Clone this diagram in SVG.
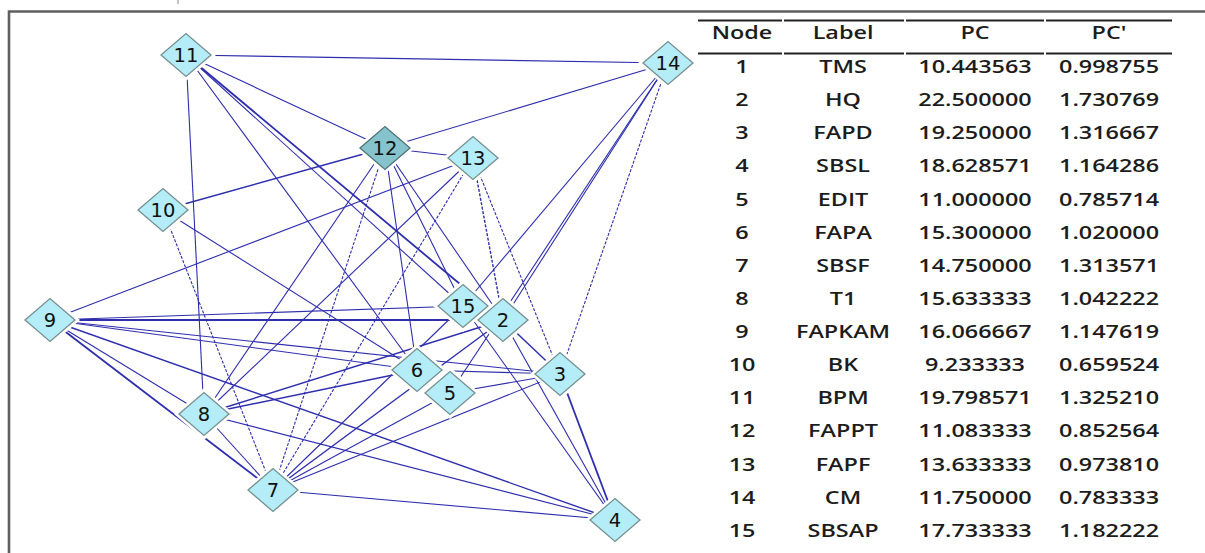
<svg xmlns="http://www.w3.org/2000/svg" xmlns:xlink="http://www.w3.org/1999/xlink" width="1205" height="553" viewBox="0 0 1205 553">
<defs>
<path id="dia" d="M-25 0L0-21.5L25 0L0 21.5Z"/>
<path id="halo" d="M-30 0L0-26L30 0L0 26Z"/>
<style>
.e{stroke:#2e2eae;stroke-width:1.1;fill:none}
.t{stroke-width:1.8}
.m{stroke-width:1.4}
.d{stroke-dasharray:3 1.5}
.n use{fill:#b4ecf8;stroke:#75908f;stroke-width:1.3}
.n text{font-family:"DejaVu Sans",Verdana,sans-serif;font-size:19.5px;fill:#111;text-anchor:middle}
#n12 use{fill:#86c3cc;stroke:#4e7478}
.tb text{font-family:"Open Sans","Liberation Sans",sans-serif;font-size:18px;font-weight:600;fill:#1c1c1c;text-anchor:middle}
.r{stroke:#222;stroke-width:2}
</style>
</defs>
<rect width="1205" height="553" fill="#fff"/>
<path d="M9 553V11.5H1205" fill="none" stroke="#5f5f5f" stroke-width="2.6"/>
<path d="M178 0V4" stroke="#888" stroke-width="1"/>
<g id="edges">
<line class="e" x1="186" y1="55" x2="668" y2="63"/>
<line class="e" x1="186" y1="55" x2="385" y2="148"/>
<line class="e" x1="186" y1="55" x2="204" y2="414"/>
<line class="e" x1="186" y1="55" x2="417" y2="370"/>
<line class="e" x1="186" y1="55" x2="463" y2="306"/>
<line class="e t" x1="186" y1="55" x2="503" y2="320"/>
<line class="e" x1="385" y1="148" x2="668" y2="63"/>
<line class="e" x1="385" y1="148" x2="473" y2="158"/>
<line class="e m" x1="385" y1="148" x2="163" y2="210"/>
<line class="e" x1="385" y1="148" x2="204" y2="414"/>
<line class="e d" x1="385" y1="148" x2="273" y2="490"/>
<line class="e" x1="385" y1="148" x2="417" y2="370"/>
<line class="e" x1="385" y1="148" x2="503" y2="320"/>
<line class="e" x1="385" y1="148" x2="463" y2="306"/>
<line class="e" x1="473" y1="158" x2="50" y2="320"/>
<line class="e" x1="473" y1="158" x2="204" y2="414"/>
<line class="e d" x1="473" y1="158" x2="273" y2="490"/>
<line class="e m d" x1="473" y1="158" x2="503" y2="320"/>
<line class="e d" x1="473" y1="158" x2="560" y2="374"/>
<line class="e" x1="668" y1="63" x2="463" y2="306"/>
<line class="e" x1="668" y1="63" x2="503" y2="320"/>
<line class="e" x1="668" y1="63" x2="450" y2="393"/>
<line class="e d" x1="668" y1="63" x2="560" y2="374"/>
<line class="e" x1="163" y1="210" x2="417" y2="370"/>
<line class="e d" x1="163" y1="210" x2="273" y2="490"/>
<line class="e" x1="50" y1="320" x2="463" y2="306"/>
<line class="e t" x1="50" y1="320" x2="503" y2="320"/>
<line class="e" x1="50" y1="320" x2="417" y2="370"/>
<line class="e" x1="50" y1="320" x2="560" y2="374"/>
<line class="e m" x1="50" y1="320" x2="615" y2="520"/>
<line class="e" x1="50" y1="320" x2="204" y2="414"/>
<line class="e t" x1="50" y1="320" x2="273" y2="490"/>
<line class="e" x1="204" y1="414" x2="273" y2="490"/>
<line class="e m" x1="204" y1="414" x2="417" y2="370"/>
<line class="e m" x1="204" y1="414" x2="503" y2="320"/>
<line class="e" x1="204" y1="414" x2="615" y2="520"/>
<line class="e" x1="273" y1="490" x2="463" y2="306"/>
<line class="e m" x1="273" y1="490" x2="503" y2="320"/>
<line class="e" x1="273" y1="490" x2="450" y2="393"/>
<line class="e" x1="273" y1="490" x2="560" y2="374"/>
<line class="e" x1="273" y1="490" x2="615" y2="520"/>
<line class="e" x1="417" y1="370" x2="560" y2="374"/>
<line class="e" x1="450" y1="393" x2="560" y2="374"/>
<line class="e m" x1="503" y1="320" x2="560" y2="374"/>
<line class="e" x1="503" y1="320" x2="615" y2="520"/>
<line class="e" x1="463" y1="306" x2="615" y2="520"/>
<line class="e t" x1="560" y1="374" x2="615" y2="520"/>
</g>
<g id="halos" fill="#fff">
<use xlink:href="#halo" x="186" y="55"/><use xlink:href="#halo" x="385" y="148"/><use xlink:href="#halo" x="473" y="158"/><use xlink:href="#halo" x="668" y="63"/><use xlink:href="#halo" x="163" y="210"/><use xlink:href="#halo" x="50" y="320"/><use xlink:href="#halo" x="204" y="414"/><use xlink:href="#halo" x="273" y="490"/><use xlink:href="#halo" x="463" y="306"/><use xlink:href="#halo" x="503" y="320"/><use xlink:href="#halo" x="417" y="370"/><use xlink:href="#halo" x="450" y="393"/><use xlink:href="#halo" x="560" y="374"/><use xlink:href="#halo" x="615" y="520"/>
</g>
<g id="n11" class="n"><use xlink:href="#dia" x="186" y="55"/><text x="186" y="62">11</text></g>
<g id="n12" class="n"><use xlink:href="#dia" x="385" y="148"/><text x="385" y="155">12</text></g>
<g id="n13" class="n"><use xlink:href="#dia" x="473" y="158"/><text x="473" y="165">13</text></g>
<g id="n14" class="n"><use xlink:href="#dia" x="668" y="63"/><text x="668" y="70">14</text></g>
<g id="n10" class="n"><use xlink:href="#dia" x="163" y="210"/><text x="163" y="217">10</text></g>
<g id="n9" class="n"><use xlink:href="#dia" x="50" y="320"/><text x="50" y="327">9</text></g>
<g id="n8" class="n"><use xlink:href="#dia" x="204" y="414"/><text x="204" y="421">8</text></g>
<g id="n7" class="n"><use xlink:href="#dia" x="273" y="490"/><text x="273" y="497">7</text></g>
<g id="n15" class="n"><use xlink:href="#dia" x="463" y="306"/><text x="463" y="313">15</text></g>
<g id="n2" class="n"><use xlink:href="#dia" x="503" y="320"/><text x="503" y="327">2</text></g>
<g id="n6" class="n"><use xlink:href="#dia" x="417" y="370"/><text x="417" y="377">6</text></g>
<g id="n5" class="n"><use xlink:href="#dia" x="450" y="393"/><text x="450" y="400">5</text></g>
<g id="n3" class="n"><use xlink:href="#dia" x="560" y="374"/><text x="560" y="381">3</text></g>
<g id="n4" class="n"><use xlink:href="#dia" x="615" y="520"/><text x="615" y="527">4</text></g>
<g id="table" class="tb">
<path class="r" d="M698 20.5H782M784 20.5H904M906 20.5H1044M1046 20.5H1172M698 53.5H782M784 53.5H904M906 53.5H1044M1046 53.5H1172"/>
<g transform="scale(1.3,1)">
<text x="570.8" y="39">Node</text><text x="648.5" y="39">Label</text><text x="750" y="39">PC</text><text x="853.1" y="39">PC'</text>
<text x="570.8" y="73">1</text><text x="648.5" y="73">TMS</text><text x="750" y="73">10.443563</text><text x="853.1" y="73">0.998755</text>
<text x="570.8" y="106.1">2</text><text x="648.5" y="106.1">HQ</text><text x="750" y="106.1">22.500000</text><text x="853.1" y="106.1">1.730769</text>
<text x="570.8" y="139.3">3</text><text x="648.5" y="139.3">FAPD</text><text x="750" y="139.3">19.250000</text><text x="853.1" y="139.3">1.316667</text>
<text x="570.8" y="172.4">4</text><text x="648.5" y="172.4">SBSL</text><text x="750" y="172.4">18.628571</text><text x="853.1" y="172.4">1.164286</text>
<text x="570.8" y="205.6">5</text><text x="648.5" y="205.6">EDIT</text><text x="750" y="205.6">11.000000</text><text x="853.1" y="205.6">0.785714</text>
<text x="570.8" y="238.7">6</text><text x="648.5" y="238.7">FAPA</text><text x="750" y="238.7">15.300000</text><text x="853.1" y="238.7">1.020000</text>
<text x="570.8" y="271.8">7</text><text x="648.5" y="271.8">SBSF</text><text x="750" y="271.8">14.750000</text><text x="853.1" y="271.8">1.313571</text>
<text x="570.8" y="305">8</text><text x="648.5" y="305">T1</text><text x="750" y="305">15.633333</text><text x="853.1" y="305">1.042222</text>
<text x="570.8" y="338.1">9</text><text x="648.5" y="338.1">FAPKAM</text><text x="750" y="338.1">16.066667</text><text x="853.1" y="338.1">1.147619</text>
<text x="570.8" y="371.3">10</text><text x="648.5" y="371.3">BK</text><text x="750" y="371.3">9.233333</text><text x="853.1" y="371.3">0.659524</text>
<text x="570.8" y="404.4">11</text><text x="648.5" y="404.4">BPM</text><text x="750" y="404.4">19.798571</text><text x="853.1" y="404.4">1.325210</text>
<text x="570.8" y="437.5">12</text><text x="648.5" y="437.5">FAPPT</text><text x="750" y="437.5">11.083333</text><text x="853.1" y="437.5">0.852564</text>
<text x="570.8" y="470.7">13</text><text x="648.5" y="470.7">FAPF</text><text x="750" y="470.7">13.633333</text><text x="853.1" y="470.7">0.973810</text>
<text x="570.8" y="503.8">14</text><text x="648.5" y="503.8">CM</text><text x="750" y="503.8">11.750000</text><text x="853.1" y="503.8">0.783333</text>
<text x="570.8" y="537">15</text><text x="648.5" y="537">SBSAP</text><text x="750" y="537">17.733333</text><text x="853.1" y="537">1.182222</text>
</g>
</g>
</svg>
